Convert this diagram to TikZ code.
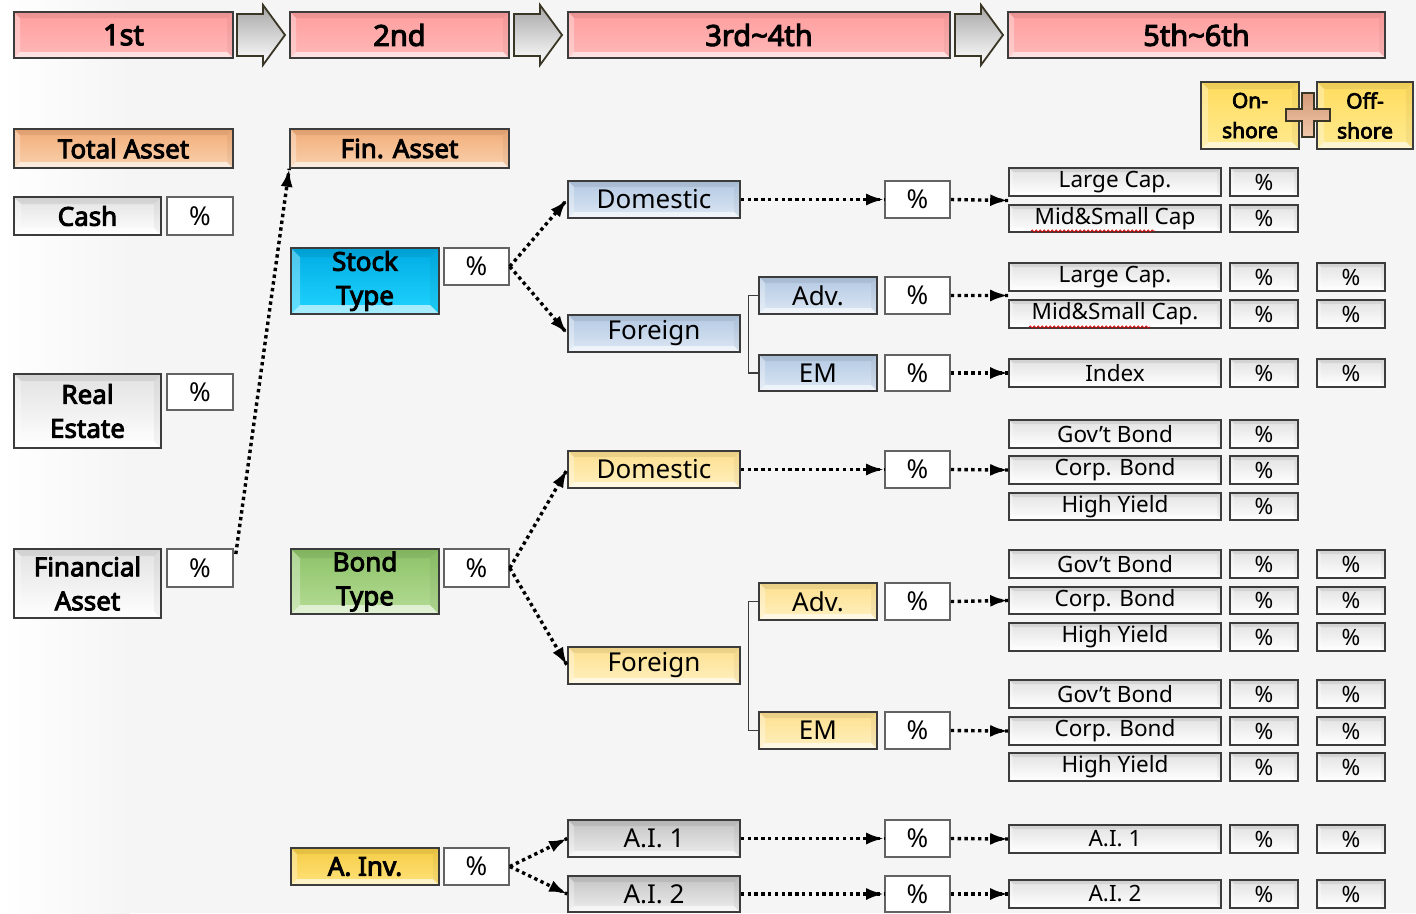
\documentclass[tikz,border=0pt]{standalone}
\usepackage{fontspec}
\setmainfont{Noto Sans}[AutoFakeBold=3.6]
\usetikzlibrary{arrows.meta,calc,decorations.pathmorphing,decorations.markings}
\definecolor{bg}{HTML}{F5F5F5}
\definecolor{boxline}{HTML}{3C3C3C}
\definecolor{pinkA}{HTML}{FF9E9E}
\definecolor{pinkB}{HTML}{FFB8B8}
\definecolor{orA}{HTML}{F2AC78}
\definecolor{orB}{HTML}{F9D2AE}
\definecolor{blA}{HTML}{00ACE4}
\definecolor{blB}{HTML}{20D4FF}
\definecolor{grA}{HTML}{8CC267}
\definecolor{grB}{HTML}{B5DC95}
\definecolor{yeA}{HTML}{F5CD45}
\definecolor{yeB}{HTML}{FFE27A}
\definecolor{ysA}{HTML}{FFDC5E}
\definecolor{ysB}{HTML}{FFEA90}
\definecolor{lbA}{HTML}{B3C9E3}
\definecolor{lbB}{HTML}{DCE7F4}
\definecolor{lyA}{HTML}{FDE08F}
\definecolor{lyB}{HTML}{FFF0C0}
\definecolor{gyA}{HTML}{C4C4C4}
\definecolor{gyB}{HTML}{EEEEEE}
\definecolor{whA}{HTML}{E2E2E2}
\definecolor{plusA}{HTML}{D49A78}
\definecolor{plusB}{HTML}{F0C8AA}
\definecolor{arrline}{HTML}{3A3626}
\tikzset{
  x=1pt, y=-1pt,
  bevel/.style={path picture={
    \coordinate (bSW) at (path picture bounding box.south west);
    \coordinate (bSE) at (path picture bounding box.south east);
    \coordinate (bNW) at (path picture bounding box.north west);
    \coordinate (bNE) at (path picture bounding box.north east);
    \fill[white, opacity=0.6] (bSW) -- (bSE) -- ([xshift=-#1,yshift=#1]bSE) -- ([xshift=#1,yshift=#1]bSW) -- cycle;
    \fill[black, opacity=0.07] (bNW) -- (bNE) -- ([xshift=-#1,yshift=-#1]bNE) -- ([xshift=#1,yshift=-#1]bNW) -- cycle;
    \fill[white, opacity=0.3] (bNW) -- (bSW) -- ([xshift=#1,yshift=#1]bSW) -- ([xshift=#1,yshift=-#1]bNW) -- cycle;
    \fill[black, opacity=0.04] (bNE) -- (bSE) -- ([xshift=-#1,yshift=#1]bSE) -- ([xshift=-#1,yshift=-#1]bNE) -- cycle;
  }},
  base/.style={draw=boxline, line width=1.6pt, inner sep=0pt, align=center,
    font=\fontsize{26}{34}\selectfont},
  hdr/.style={base, top color=pinkA, bottom color=pinkB, bevel=6pt, font=\bfseries\fontsize{29}{34}\selectfont},
  orbox/.style={base, top color=orA, bottom color=orB, bevel=6pt, font=\bfseries\fontsize{26}{34}\selectfont},
  wbold/.style={base, top color=whA, bottom color=white, bevel=7pt, font=\bfseries\fontsize{26}{34}\selectfont},
  pct/.style={base, fill=white, draw=boxline!80},
  stockbox/.style={base, top color=blA, bottom color=blB, bevel=9pt, font=\bfseries\fontsize{26}{34}\selectfont},
  bondbox/.style={base, top color=grA, bottom color=grB, bevel=9pt, font=\bfseries\fontsize{26}{34}\selectfont},
  ainvbox/.style={base, top color=yeA, bottom color=yeB, bevel=6pt, font=\bfseries\fontsize{26}{34}\selectfont},
  shorebox/.style={base, top color=ysA, bottom color=ysB, bevel=7pt, font=\bfseries\fontsize{21}{30}\selectfont},
  lblue/.style={base, top color=lbA, bottom color=lbB, bevel=6pt},
  lyel/.style={base, top color=lyA, bottom color=lyB, bevel=6pt},
  lgray/.style={base, top color=gyA, bottom color=gyB, bevel=6pt},
  rbox/.style={base, top color=whA, bottom color=white, bevel=4pt, font=\fontsize{22.5}{28}\selectfont},
  rpct/.style={rbox},
  dotarrow/.style={line width=3.4pt, dash pattern=on 3.4pt off 3.4pt,
    postaction={decorate}, decoration={markings, mark=at position 1 with
      {\pgfsetdash{}{0pt}\arrow{Latex[length=18pt,width=12pt]}}}},
  bracket/.style={draw=boxline, line width=1.1pt},
  squiggle/.style={draw=red!85!black, line width=0.7pt,
    decorate, decoration={snake, amplitude=1.2pt, segment length=4pt}},
  hdrarrow/.style={draw=arrline, line width=1.8pt, top color=gray!70, bottom color=white, line join=miter},
}
\newcommand\B[7]{\node[#2, minimum width={(#5-#3)*1pt}, minimum height={(#6-#4)*1pt}] (#1) at ({(#3+#5)/2},{(#4+#6)/2}) {#7};}
\newcommand\HArrow[1]{\path[hdrarrow] (#1,14) -- ++(26,0) -- ++(0,-9) -- ++(22,30) -- ++(-22,30) -- ++(0,-9) -- ++(-26,0) -- cycle;}
\begin{document}
\begin{tikzpicture}
\fill[bg] (0,0) rectangle (1416,913);
\useasboundingbox (0,0) rectangle (1416,913);
\shade[left color=white, right color=bg] (0,0) rectangle (130,913);

% header
\B{h1}{hdr}{14}{12}{233}{58}{1st}
\B{h2}{hdr}{290}{12}{509}{58}{2nd}
\B{h3}{hdr}{568}{12}{950}{58}{3rd\textasciitilde4th}
\B{h4}{hdr}{1008}{12}{1385}{58}{5th\textasciitilde6th}
\HArrow{237}
\HArrow{514}
\HArrow{955}

% second row
\B{tot}{orbox}{14}{129}{233}{168}{Total Asset}
\B{fin}{orbox}{290}{129}{509}{168}{Fin. Asset}
\B{on}{shorebox}{1201}{82}{1299}{149}{On-\\shore}
\B{off}{shorebox}{1317}{82}{1413}{149}{Off-\\shore}
\path[draw=arrline, line width=1.4pt, top color=plusA, bottom color=plusB]
  (1302,93) -- (1314,93) -- (1314,109) -- (1330,109) -- (1330,121) -- (1314,121)
  -- (1314,137) -- (1302,137) -- (1302,121) -- (1286,121) -- (1286,109) -- (1302,109) -- cycle;

% first column
\B{cash}{wbold}{14}{197}{161}{235}{Cash}
\B{cashp}{pct}{167}{197}{233}{235}{\%}
\B{real}{wbold}{14}{374}{161}{448}{Real\\Estate}
\B{realp}{pct}{167}{374}{233}{410}{\%}
\B{fa}{wbold}{14}{549}{161}{618}{Financial\\Asset}
\B{fap}{pct}{167}{549}{233}{587}{\%}

% second column
\B{stock}{stockbox}{291}{248}{439}{314}{Stock\\Type}
\B{stockp}{pct}{444}{248}{509}{285}{\%}
\B{bond}{bondbox}{291}{549}{439}{614}{Bond\\Type}
\B{bondp}{pct}{444}{549}{509}{587}{\%}
\B{ainv}{ainvbox}{291}{848}{439}{885}{A. Inv.}
\B{ainvp}{pct}{444}{848}{509}{885}{\%}

% third column
\B{sdom}{lblue}{568}{181}{740}{218}{Domestic}
\B{sdomp}{pct}{885}{181}{950}{218}{\%}
\B{sfor}{lblue}{568}{315}{740}{352}{Foreign}
\B{sadv}{lblue}{759}{277}{877}{314}{Adv.}
\B{sadvp}{pct}{885}{277}{950}{314}{\%}
\B{sem}{lblue}{759}{355}{877}{391}{EM}
\B{semp}{pct}{885}{355}{950}{391}{\%}

\B{bdom}{lyel}{568}{451}{740}{488}{Domestic}
\B{bdomp}{pct}{885}{451}{950}{488}{\%}
\B{bfor}{lyel}{568}{647}{740}{684}{Foreign}
\B{badv}{lyel}{759}{583}{877}{620}{Adv.}
\B{badvp}{pct}{885}{583}{950}{620}{\%}
\B{bem}{lyel}{759}{712}{877}{749}{EM}
\B{bemp}{pct}{885}{712}{950}{749}{\%}

\B{ai1}{lgray}{568}{820}{740}{857}{A.I. 1}
\B{ai1p}{pct}{885}{820}{950}{857}{\%}
\B{ai2}{lgray}{568}{876}{740}{912}{A.I. 2}
\B{ai2p}{pct}{885}{876}{950}{912}{\%}

% right column
\B{r1}{rbox}{1009}{168}{1221}{196}{Large Cap.}
\B{r1p}{rpct}{1230}{168}{1298}{196}{\%}
\B{r2}{rbox}{1009}{205}{1221}{232}{Mid\&Small Cap}
\B{r2p}{rpct}{1230}{205}{1298}{232}{\%}
\B{r3}{rbox}{1009}{263}{1221}{291}{Large Cap.}
\B{r3p}{rpct}{1230}{263}{1298}{291}{\%}
\B{r3q}{rpct}{1317}{263}{1385}{291}{\%}
\B{r4}{rbox}{1009}{300}{1221}{328}{Mid\&Small Cap.}
\B{r4p}{rpct}{1230}{300}{1298}{328}{\%}
\B{r4q}{rpct}{1317}{300}{1385}{328}{\%}
\B{r5}{rbox}{1009}{359}{1221}{387}{Index}
\B{r5p}{rpct}{1230}{359}{1298}{387}{\%}
\B{r5q}{rpct}{1317}{359}{1385}{387}{\%}
\B{r6}{rbox}{1009}{420}{1221}{448}{Gov’t Bond}
\B{r6p}{rpct}{1230}{420}{1298}{448}{\%}
\B{r7}{rbox}{1009}{456}{1221}{484}{Corp. Bond}
\B{r7p}{rpct}{1230}{456}{1298}{484}{\%}
\B{r8}{rbox}{1009}{493}{1221}{520}{High Yield}
\B{r8p}{rpct}{1230}{493}{1298}{520}{\%}
\B{r9}{rbox}{1009}{550}{1221}{578}{Gov’t Bond}
\B{r9p}{rpct}{1230}{550}{1298}{578}{\%}
\B{r9q}{rpct}{1317}{550}{1385}{578}{\%}
\B{r10}{rbox}{1009}{587}{1221}{614}{Corp. Bond}
\B{r10p}{rpct}{1230}{587}{1298}{614}{\%}
\B{r10q}{rpct}{1317}{587}{1385}{614}{\%}
\B{r11}{rbox}{1009}{623}{1221}{651}{High Yield}
\B{r11p}{rpct}{1230}{623}{1298}{651}{\%}
\B{r11q}{rpct}{1317}{623}{1385}{651}{\%}
\B{r12}{rbox}{1009}{680}{1221}{708}{Gov’t Bond}
\B{r12p}{rpct}{1230}{680}{1298}{708}{\%}
\B{r12q}{rpct}{1317}{680}{1385}{708}{\%}
\B{r13}{rbox}{1009}{717}{1221}{745}{Corp. Bond}
\B{r13p}{rpct}{1230}{717}{1298}{745}{\%}
\B{r13q}{rpct}{1317}{717}{1385}{745}{\%}
\B{r14}{rbox}{1009}{753}{1221}{781}{High Yield}
\B{r14p}{rpct}{1230}{753}{1298}{781}{\%}
\B{r14q}{rpct}{1317}{753}{1385}{781}{\%}
\B{r15}{rbox}{1009}{825}{1221}{853}{A.I. 1}
\B{r15p}{rpct}{1230}{825}{1298}{853}{\%}
\B{r15q}{rpct}{1317}{825}{1385}{853}{\%}
\B{r16}{rbox}{1009}{880}{1221}{908}{A.I. 2}
\B{r16p}{rpct}{1230}{880}{1298}{908}{\%}
\B{r16q}{rpct}{1317}{880}{1385}{908}{\%}

% spell-check squiggles
\draw[squiggle] (1031,231) -- (1155,231);
\draw[squiggle] (1029,327) -- (1150,327);

% connectors
\draw[dotarrow] ($(fap.east)+(2,-14)$) -- (fin.south west);
\draw[dotarrow] (stockp.east) -- (sdom.west);
\draw[dotarrow] (stockp.east) -- (sfor.west);
\draw[dotarrow] (sdom.east) -- (sdomp.west);
\coordinate (c12) at ($(r1.south west)!0.5!(r2.north west)$);
\coordinate (c34) at ($(r3.south west)!0.5!(r4.north west)$);
\draw[dotarrow] (sdomp.east) -- (c12);
\draw[dotarrow] (sadvp.east) -- (c34);
\draw[dotarrow] (semp.east) -- (r5.west);
\draw[bracket] (sadv.west) -- ++(-10,0) |- (sem.west);

\draw[dotarrow] (bondp.east) -- (bdom.west);
\draw[dotarrow] (bondp.east) -- (bfor.west);
\draw[dotarrow] (bdom.east) -- (bdomp.west);
\draw[dotarrow] (bdomp.east) -- (r7.west);
\draw[dotarrow] (badvp.east) -- (r10.west);
\draw[dotarrow] (bemp.east) -- (r13.west);
\draw[bracket] (badv.west) -- ++(-10,0) |- (bem.west);

\draw[dotarrow] (ainvp.east) -- (ai1.west);
\draw[dotarrow] (ainvp.east) -- (ai2.west);
\draw[dotarrow] (ai1.east) -- (ai1p.west);
\draw[dotarrow] (ai2.east) -- (ai2p.west);
\draw[dotarrow] (ai1p.east) -- (r15.west);
\draw[dotarrow] (ai2p.east) -- (r16.west);
\end{tikzpicture}
\end{document}
